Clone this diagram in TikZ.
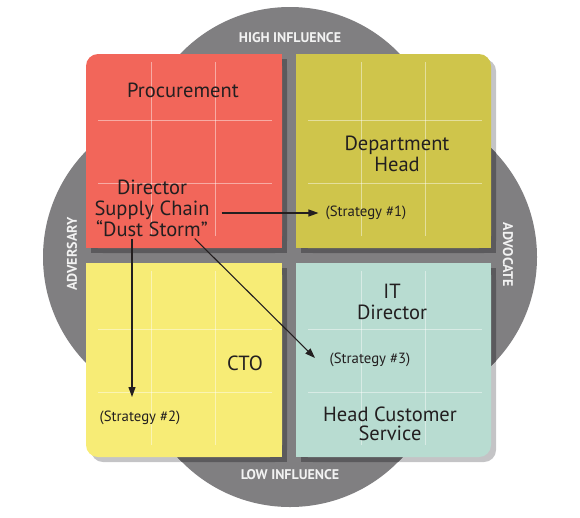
\documentclass[tikz,border=0pt]{standalone}
\usepackage{fontspec}
\setmainfont{PT Sans}
\usetikzlibrary{arrows.meta}
\definecolor{blob}{HTML}{807F81}
\definecolor{shdark}{HTML}{5B5A5D}
\definecolor{shlight}{HTML}{C4C4C6}
\definecolor{cred}{HTML}{F2665A}
\definecolor{colive}{HTML}{CFC54B}
\definecolor{cyel}{HTML}{F7EC76}
\definecolor{cteal}{HTML}{B8DCD1}
\definecolor{ink}{HTML}{231F20}
\newcommand\qshape[7]{%
  \fill[#1,rounded corners=12pt] (#2,#3) rectangle (#4,#5);
  \fill[#1] #6; \fill[#1] #7;}
\tikzset{
  lbl/.style={text=ink, align=center, inner sep=2pt, font=\fontsize{20.5}{21}\selectfont},
  strat/.style={text=ink, inner sep=2pt, font=\fontsize{14.8}{16}\selectfont},
  axis/.style={text=white!95!black, inner sep=1pt, font=\bfseries\fontsize{14}{15}\selectfont},
  gridl/.style={draw=white, draw opacity=0.45, line width=0.7pt},
  arr/.style={draw=ink, line width=1.1pt, -{Triangle[length=10pt,width=7pt]}}
}
\begin{document}
\begin{tikzpicture}[x=1pt,y=-1pt]
\useasboundingbox (0,0) rectangle (580,517);
% shadows (light, outside the blob)
\qshape{shlight,xshift=5pt,yshift=-5pt}{86}{54}{282}{248}{(98,54) rectangle (282,248)}{(86,66) rectangle (282,248)}
\qshape{shlight,xshift=5pt,yshift=-5pt}{296}{54}{491}{248}{(296,54) rectangle (479,248)}{(296,66) rectangle (491,248)}
\qshape{shlight,xshift=5pt,yshift=-5pt}{86}{263}{282}{457}{(98,263) rectangle (282,457)}{(86,263) rectangle (282,445)}
\qshape{shlight,xshift=5pt,yshift=-5pt}{296}{263}{491}{457}{(296,263) rectangle (479,457)}{(296,263) rectangle (491,445)}
% gray blob
\fill[blob] (290,159) circle[radius=152pt] (290,355) circle[radius=152pt]
            (195,257) circle[radius=152pt] (385,257) circle[radius=152pt];
% shadows (dark, on the blob)
\begin{scope}
\clip (290,159) circle[radius=152pt] (290,355) circle[radius=152pt]
      (195,257) circle[radius=152pt] (385,257) circle[radius=152pt];
\qshape{shdark,xshift=5pt,yshift=-5pt}{86}{54}{282}{248}{(98,54) rectangle (282,248)}{(86,66) rectangle (282,248)}
\qshape{shdark,xshift=5pt,yshift=-5pt}{296}{54}{491}{248}{(296,54) rectangle (479,248)}{(296,66) rectangle (491,248)}
\qshape{shdark,xshift=5pt,yshift=-5pt}{86}{263}{282}{457}{(98,263) rectangle (282,457)}{(86,263) rectangle (282,445)}
\qshape{shdark,xshift=5pt,yshift=-5pt}{296}{263}{491}{457}{(296,263) rectangle (479,457)}{(296,263) rectangle (491,445)}
\end{scope}
% quadrants
\qshape{cred}{86}{54}{282}{248}{(98,54) rectangle (282,248)}{(86,66) rectangle (282,248)}
\qshape{colive}{296}{54}{491}{248}{(296,54) rectangle (479,248)}{(296,66) rectangle (491,248)}
\qshape{cyel}{86}{263}{282}{457}{(98,263) rectangle (282,457)}{(86,263) rectangle (282,445)}
\qshape{cteal}{296}{263}{491}{457}{(296,263) rectangle (479,457)}{(296,263) rectangle (491,445)}
% faint grid lines
\foreach \x/\y in {86/54,296/54,86/263,296/263}{
  \draw[gridl] (\x+65,\y+8) -- (\x+65,\y+182);
  \draw[gridl] (\x+129,\y+8) -- (\x+129,\y+182);
  \draw[gridl] (\x+12,\y+66) -- (\x+186,\y+66);
  \draw[gridl] (\x+12,\y+129) -- (\x+186,\y+129);
}
% axis labels
\node[axis] (hi) at (290,38) {HIGH INFLUENCE};
\node[axis] (lo) at (290,475) {LOW INFLUENCE};
\node[axis, rotate=90] (adv) at (72,254) {ADVERSARY};
\node[axis, rotate=-90] (advo) at (508,255) {ADVOCATE};
% labels
\node[lbl] (proc) at (183,90) {Procurement};
\node[lbl] (dept) at (397,154) {Department\\Head};
\node[lbl] (dir) at (152,208) {Director\\Supply Chain\\“Dust Storm”};
\node[lbl] (cto) at (245,363) {CTO};
\node[lbl, font=\fontsize{20.5}{20.5}\selectfont] (itd) at (392,302) {IT\\Director};
\node[lbl, font=\fontsize{20.5}{19.5}\selectfont] (hcs) at (390,424) {Head Customer\\Service};
\node[strat] (s1) at (366,213) {(Strategy \#1)};
\node[strat] (s2) at (140,418) {(Strategy \#2)};
\node[strat] (s3) at (370,360) {(Strategy \#3)};
% arrows
\coordinate (t2) at (132,397);
\coordinate (t3) at (315,358);
\draw[arr, shorten <=10pt, shorten >=5pt] (dir.east |- s1.west) -- (s1.west);
\draw[arr] (dir.south -| t2) -- (t2);
\draw[arr] ([xshift=-17pt]dir.south east) -- (t3);
\end{tikzpicture}
\end{document}
